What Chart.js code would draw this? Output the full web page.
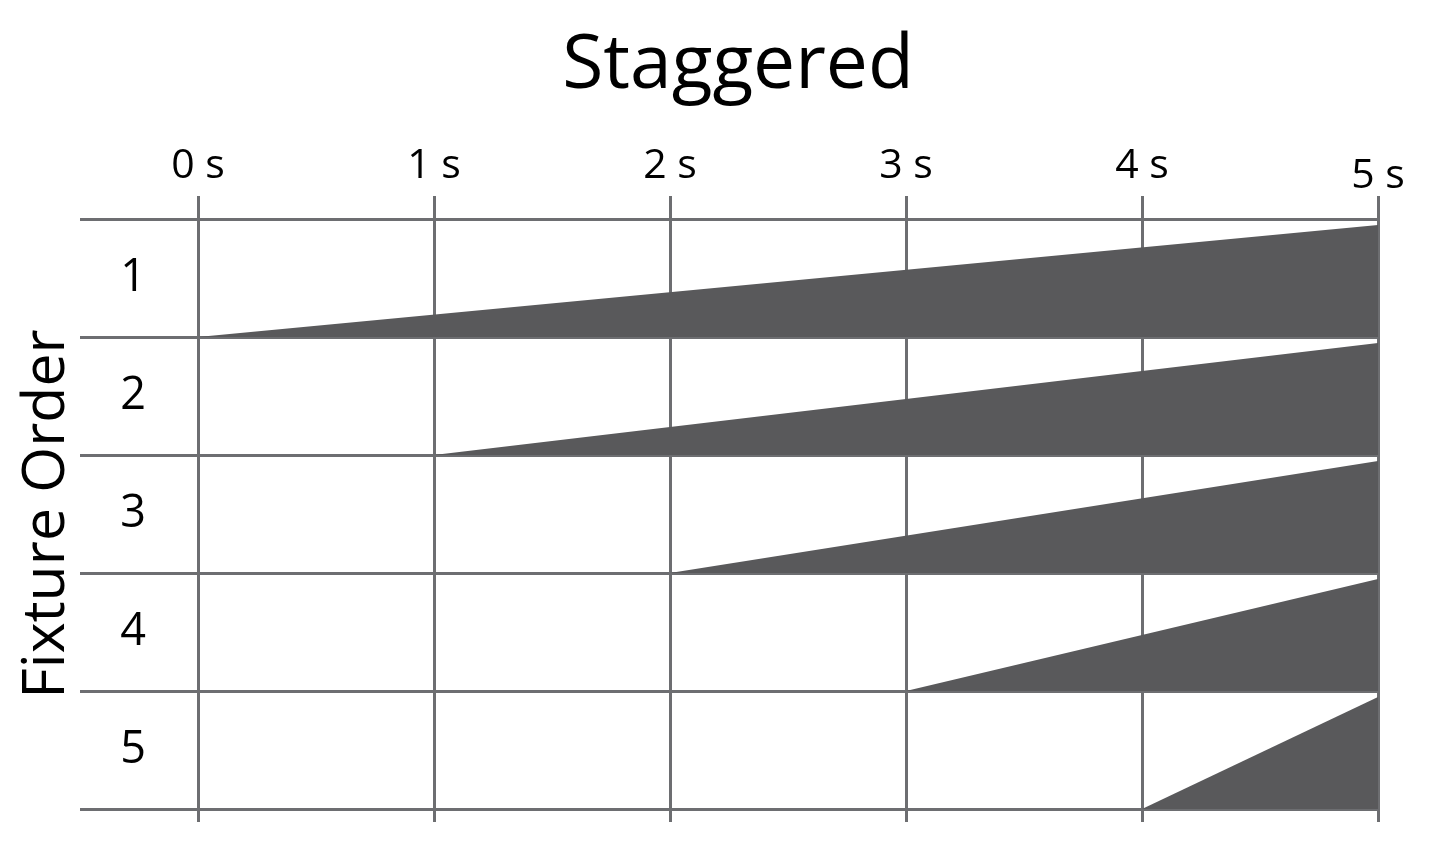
<!DOCTYPE html>
<html>
<head>
<meta charset="utf-8">
<title>Staggered</title>
<script src="https://cdn.jsdelivr.net/npm/chart.js@4.4.1/dist/chart.umd.min.js"></script>
<style>
  html, body { margin: 0; padding: 0; background: #fff; }
  #wrap { width: 1429px; height: 845px; }
</style>
</head>
<body>
<div id="wrap"><canvas id="staggered"></canvas></div>
<script>
// time axis (seconds) and its labels
const secondLabels = ["0 s", "1 s", "2 s", "3 s", "4 s", "5 s"];
// fixtures, top to bottom
const fixtures = ["1", "2", "3", "4", "5"];
// each fixture starts its fade at this time and is full at the end time
const startTimes = [0, 1, 2, 3, 4];
const endTime = 5;
// height reached at the end time, as a fraction of the row
const endLevel = [0.95, 0.95, 0.95, 0.95, 0.95];

const gridColor = "#6d6e71";
const fillColor = "#59595b";
const fontFamily = "'Open Sans', 'Noto Sans', sans-serif";

function buildDatasets() {
  return fixtures.map(function (name, i) {
    const bottom = i + 1;
    return {
      label: name,
      data: [
        { x: startTimes[i], y: bottom },
        { x: endTime, y: bottom - endLevel[i] },
      ],
      borderWidth: 0,
      borderColor: fillColor,
      backgroundColor: fillColor,
      pointRadius: 0,
      tension: 0,
      fill: { value: bottom },
    };
  });
}

function init() {
  const ctx = document.getElementById("staggered");
  new Chart(ctx, {
    type: "line",
    data: { datasets: buildDatasets() },
    options: {
      responsive: true,
      maintainAspectRatio: false,
      animation: false,
      events: [],
      layout: { padding: { left: 98, right: 51, top: 0, bottom: 0 } },
      plugins: {
        legend: { display: false },
        tooltip: { enabled: false },
        title: {
          display: true,
          text: "Staggered",
          color: "#000",
          font: { family: fontFamily, size: 75, weight: "normal" },
          padding: { top: 22, bottom: 0 },
        },
      },
      scales: {
        x: {
          type: "linear",
          position: "top",
          min: 0,
          max: 5,
          z: 1,
          border: { display: false },
          grid: { color: gridColor, lineWidth: 3, tickLength: 23 },
          ticks: {
            stepSize: 1,
            color: "#000",
            padding: 5,
            maxRotation: 0,
            autoSkip: false,
            callback: (v, i) => secondLabels[i],
            // the last label sits a little lower in the original
            font: (c) => ({
              family: fontFamily,
              size: 41,
              lineHeight: c.index === secondLabels.length - 1 ? 0.71 : 1.2,
            }),
          },
          afterFit: (s) => { s.height = 107; },
        },
        xBottom: {
          type: "linear",
          position: "bottom",
          min: 0,
          max: 5,
          z: 1,
          border: { display: false },
          grid: { color: gridColor, lineWidth: 3, tickLength: 13, drawOnChartArea: false },
          ticks: { stepSize: 1, display: false },
          afterFit: (s) => { s.height = 36; },
        },
        y: {
          type: "linear",
          reverse: true,
          min: 0,
          max: 5,
          z: 1,
          border: { display: false },
          grid: { color: gridColor, lineWidth: 3, tickLength: 118 },
          ticks: {
            stepSize: 1,
            color: "#000",
            labelOffset: -59,
            crossAlign: "center",
            padding: -66,
            font: { family: fontFamily, size: 45 },
            callback: (v) => (v >= 1 ? fixtures[v - 1] : ""),
          },
          title: {
            display: true,
            text: "Fixture Order",
            color: "#000",
            font: { family: fontFamily, size: 59 },
            padding: { top: -86, bottom: 0 },
          },
          afterFit: (s) => { s.width = 100; },
        },
      },
    },
  });
}

window.onload = init;
</script>
</body>
</html>
